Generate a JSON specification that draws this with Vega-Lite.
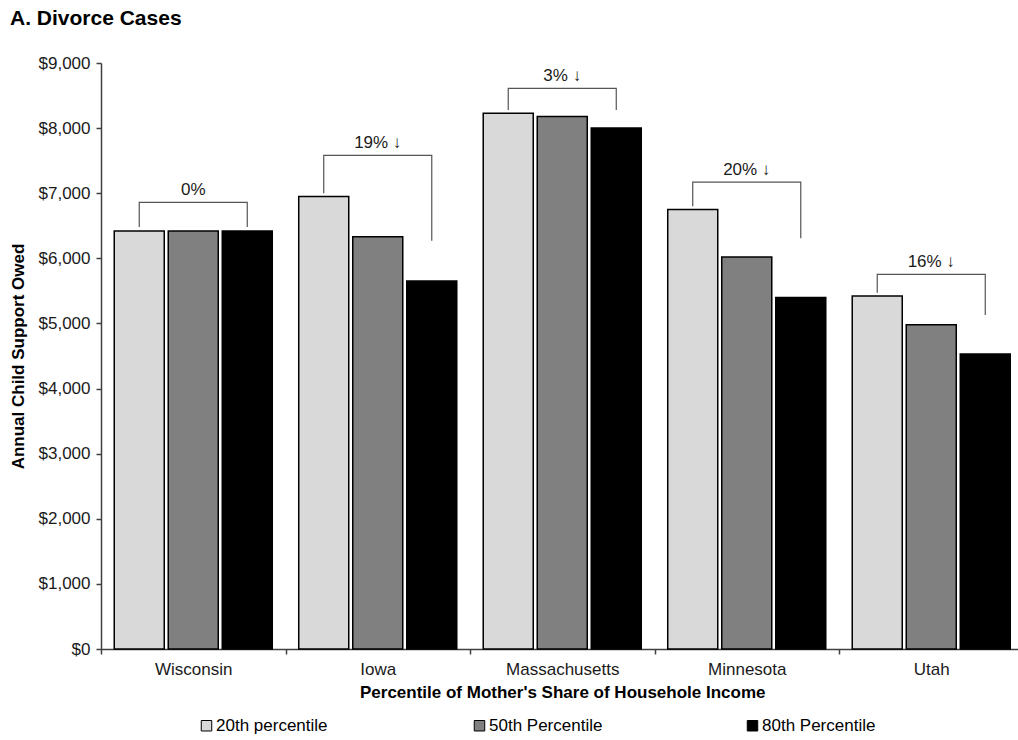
{
  "$schema": "https://vega.github.io/schema/vega-lite/v6.json",
  "width": 917,
  "height": 586,
  "autosize": {"type": "none"},
  "padding": {"left": 101, "top": 63, "right": 0, "bottom": 91},
  "background": "white",
  "config": {
    "font": "Liberation Sans",
    "view": {"stroke": null},
    "axis": {
      "domainColor": "#404040",
      "domainWidth": 1.5,
      "tickColor": "#404040",
      "tickWidth": 1.5,
      "tickSize": 5,
      "labelFont": "Liberation Sans",
      "labelFontSize": 17,
      "labelColor": "#1a1a1a",
      "titleFont": "Liberation Sans",
      "titleFontSize": 17,
      "titleFontWeight": "bold",
      "titleColor": "#000000",
      "grid": false
    }
  },
  "title": {
    "text": "A. Divorce Cases",
    "anchor": "start",
    "frame": "group",
    "dx": -91,
    "offset": 25,
    "font": "Liberation Sans",
    "fontSize": 21,
    "fontWeight": "bold",
    "color": "#000000"
  },
  "datasets": {
    "bars": [
      {"state": "Wisconsin", "group": "20th percentile", "value": 6420},
      {"state": "Wisconsin", "group": "50th Percentile", "value": 6420},
      {"state": "Wisconsin", "group": "80th Percentile", "value": 6420},
      {"state": "Iowa", "group": "20th percentile", "value": 6950},
      {"state": "Iowa", "group": "50th Percentile", "value": 6330},
      {"state": "Iowa", "group": "80th Percentile", "value": 5650},
      {"state": "Massachusetts", "group": "20th percentile", "value": 8230},
      {"state": "Massachusetts", "group": "50th Percentile", "value": 8180},
      {"state": "Massachusetts", "group": "80th Percentile", "value": 8000},
      {"state": "Minnesota", "group": "20th percentile", "value": 6750},
      {"state": "Minnesota", "group": "50th Percentile", "value": 6020},
      {"state": "Minnesota", "group": "80th Percentile", "value": 5400},
      {"state": "Utah", "group": "20th percentile", "value": 5420},
      {"state": "Utah", "group": "50th Percentile", "value": 4980},
      {"state": "Utah", "group": "80th Percentile", "value": 4530}
    ],
    "brackets": [
      {"state": "Wisconsin", "group": "20th percentile", "step": 1, "amount": 6480},
      {"state": "Wisconsin", "group": "20th percentile", "step": 2, "amount": 6860},
      {"state": "Wisconsin", "group": "80th Percentile", "step": 3, "amount": 6860},
      {"state": "Wisconsin", "group": "80th Percentile", "step": 4, "amount": 6480},
      {"state": "Iowa", "group": "20th percentile", "step": 1, "amount": 7000},
      {"state": "Iowa", "group": "20th percentile", "step": 2, "amount": 7580},
      {"state": "Iowa", "group": "80th Percentile", "step": 3, "amount": 7580},
      {"state": "Iowa", "group": "80th Percentile", "step": 4, "amount": 6270},
      {"state": "Massachusetts", "group": "20th percentile", "step": 1, "amount": 8280},
      {"state": "Massachusetts", "group": "20th percentile", "step": 2, "amount": 8610},
      {"state": "Massachusetts", "group": "80th Percentile", "step": 3, "amount": 8610},
      {"state": "Massachusetts", "group": "80th Percentile", "step": 4, "amount": 8280},
      {"state": "Minnesota", "group": "20th percentile", "step": 1, "amount": 6800},
      {"state": "Minnesota", "group": "20th percentile", "step": 2, "amount": 7170},
      {"state": "Minnesota", "group": "80th Percentile", "step": 3, "amount": 7170},
      {"state": "Minnesota", "group": "80th Percentile", "step": 4, "amount": 6310},
      {"state": "Utah", "group": "20th percentile", "step": 1, "amount": 5470},
      {"state": "Utah", "group": "20th percentile", "step": 2, "amount": 5755},
      {"state": "Utah", "group": "80th Percentile", "step": 3, "amount": 5755},
      {"state": "Utah", "group": "80th Percentile", "step": 4, "amount": 5130}
    ],
    "labels": [
      {"state": "Wisconsin", "label": "0%", "amount": 6860},
      {"state": "Iowa", "label": "19% ↓", "amount": 7580},
      {"state": "Massachusetts", "label": "3% ↓", "amount": 8610},
      {"state": "Minnesota", "label": "20% ↓", "amount": 7170},
      {"state": "Utah", "label": "16% ↓", "amount": 5755}
    ]
  },
  "layer": [
    {
      "data": {"name": "bars"},
      "mark": {"type": "bar", "stroke": "#000000", "strokeWidth": 1.5},
      "encoding": {
        "x": {
          "field": "state",
          "type": "nominal",
          "sort": ["Wisconsin", "Iowa", "Massachusetts", "Minnesota", "Utah"],
          "scale": {"range": [0, 922.5], "paddingInner": 0, "paddingOuter": 0},
          "axis": {
            "title": "Percentile of Mother's Share of Househole Income",
            "labelAngle": 0,
            "tickBand": "extent",
            "labelPadding": 7,
            "titlePadding": 7
          }
        },
        "xOffset": {
          "field": "group",
          "type": "nominal",
          "sort": ["20th percentile", "50th Percentile", "80th Percentile"],
          "scale": {"paddingInner": 0.074, "paddingOuter": 0.245}
        },
        "y": {
          "field": "value",
          "type": "quantitative",
          "scale": {"domain": [0, 9000]},
          "axis": {
            "title": "Annual Child Support Owed",
            "values": [0, 1000, 2000, 3000, 4000, 5000, 6000, 7000, 8000, 9000],
            "format": "$,.0f",
            "labelPadding": 6,
            "titlePadding": 11
          }
        },
        "color": {
          "field": "group",
          "type": "nominal",
          "sort": ["20th percentile", "50th Percentile", "80th Percentile"],
          "scale": {
            "domain": ["20th percentile", "50th Percentile", "80th Percentile"],
            "range": ["#d9d9d9", "#808080", "#000000"]
          },
          "legend": {
            "orient": "none",
            "legendX": 97,
            "legendY": 654,
            "direction": "horizontal",
            "gridAlign": "all",
            "title": null,
            "symbolType": "square",
            "symbolSize": 110,
            "symbolStrokeColor": "#000000",
            "symbolStrokeWidth": 1,
            "labelFont": "Liberation Sans",
            "labelFontSize": 17,
            "labelColor": "#000000",
            "labelOffset": 1,
            "columnPadding": 141
          }
        }
      }
    },
    {
      "mark": {"type": "rule", "color": "#404040", "strokeWidth": 1.5},
      "encoding": {"y": {"datum": 9000, "type": "quantitative"}}
    },
    {
      "data": {"name": "brackets"},
      "mark": {"type": "line", "color": "#555555", "strokeWidth": 1.2},
      "encoding": {
        "x": {"field": "state", "type": "nominal", "sort": ["Wisconsin", "Iowa", "Massachusetts", "Minnesota", "Utah"]},
        "xOffset": {"field": "group", "type": "nominal", "sort": ["20th percentile", "50th Percentile", "80th Percentile"]},
        "y": {"field": "amount", "type": "quantitative"},
        "detail": {"field": "state"},
        "order": {"field": "step"}
      }
    },
    {
      "data": {"name": "labels"},
      "mark": {"type": "text", "baseline": "alphabetic", "dy": -7, "fontSize": 17, "font": "Liberation Sans, DejaVu Sans", "color": "#1a1a1a"},
      "encoding": {
        "x": {"field": "state", "type": "nominal", "sort": ["Wisconsin", "Iowa", "Massachusetts", "Minnesota", "Utah"]},
        "y": {"field": "amount", "type": "quantitative"},
        "text": {"field": "label"}
      }
    }
  ]
}
